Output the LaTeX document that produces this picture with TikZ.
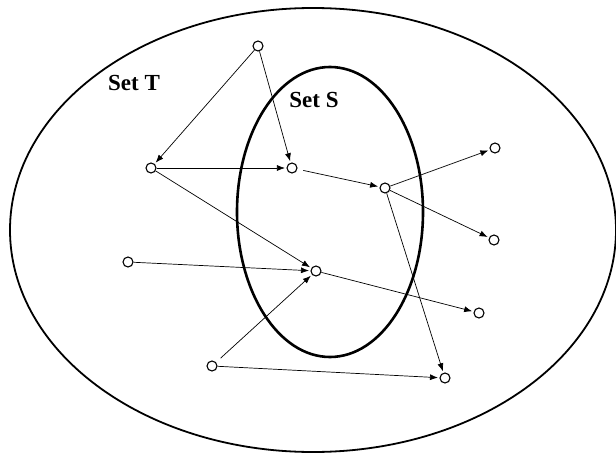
\documentclass[tikz,border=0pt]{standalone}
\usepackage{fontspec}
\setmainfont{Liberation Serif}
\usetikzlibrary{arrows.meta}
\tikzset{
  elt/.style={circle,draw,line width=1.1pt,minimum size=10pt,inner sep=0pt},
  link/.style={-{Latex[length=8pt,width=6pt]},line width=0.7pt,shorten >=1.5pt},
  gap/.style={shorten <=6pt},
  setlabel/.style={font=\bfseries\fontsize{23}{25}\selectfont}
}
\begin{document}
\begin{tikzpicture}[x=1pt,y=-1pt]
\useasboundingbox (0,0) rectangle (616,455);
% the two sets
\draw[line width=1.8pt] (313,230) ellipse [x radius=303,y radius=222];
\draw[line width=2.6pt] (330,212) ellipse [x radius=93,y radius=145];
\node[setlabel] (labT) at (134,83) {Set T};
\node[setlabel] (labS) at (314,100) {Set S};
% elements
\node[elt] (top) at (258,46) {};
\node[elt] (a) at (151,168) {};
\node[elt] (b) at (292,168) {};
\node[elt] (c) at (385,188) {};
\node[elt] (d) at (495,148) {};
\node[elt] (e) at (494,240) {};
\node[elt] (f) at (316,271) {};
\node[elt] (g) at (479,313) {};
\node[elt] (h) at (128,262) {};
\node[elt] (i) at (212,366) {};
\node[elt] (j) at (445,378) {};
% the map
\foreach \s/\t in {top/a,top/b,a/b,a/f,c/d,c/e,c/j,h/f,i/j,f/g}
  \draw[link] (\s) -- (\t);
\draw[link,gap] (b) -- (c);
\draw[link,gap] (i) -- (f);
\end{tikzpicture}
\end{document}
